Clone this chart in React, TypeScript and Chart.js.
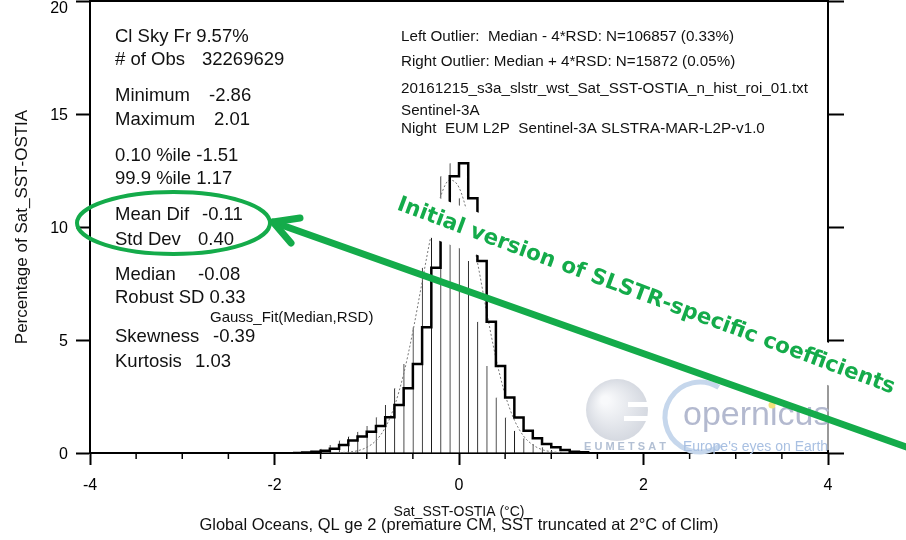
import React, { useEffect, useRef } from "react";
import { Chart, registerables } from "chart.js";
Chart.register(...registerables);

// ---- data ----
const binCenters = [-1.75, -1.65, -1.55, -1.45, -1.35, -1.25, -1.15, -1.05, -0.95, -0.85, -0.75, -0.65, -0.55, -0.45, -0.35, -0.25, -0.15, -0.05, 0.05, 0.15, 0.25, 0.35, 0.45, 0.55, 0.65, 0.75, 0.85, 0.95, 1.05, 1.15, 1.25, 1.35];
const binPercent = [0.02, 0.05, 0.1, 0.19, 0.35, 0.55, 0.73, 0.94, 1.19, 1.58, 2.12, 2.86, 3.94, 5.56, 8.2, 10.9, 12.25, 12.82, 11.27, 8.5, 5.81, 3.85, 2.46, 1.57, 0.98, 0.65, 0.4, 0.25, 0.13, 0.06, 0.03, 0.01];
const binWidth = 0.1;

const gaussX = [-1.3, -1.2, -1.1, -1.0, -0.9, -0.8, -0.7, -0.6, -0.5, -0.4, -0.3, -0.2, -0.1, 0.0, 0.1, 0.2, 0.3, 0.4, 0.5, 0.6, 0.7, 0.8, 0.9, 1.0, 1.1];
const gaussY = [0.02, 0.04, 0.1, 0.25, 0.55, 1.12, 2.07, 3.5, 5.38, 7.56, 9.69, 11.34, 12.08, 11.75, 10.43, 8.44, 6.24, 4.2, 2.58, 1.46, 0.75, 0.36, 0.15, 0.06, 0.02];

const xMajorTicks = [-4, -2, 0, 2, 4];
const xMinorTicks = [-3.5, -3, -2.5, -1.5, -1, -0.5, 0.5, 1, 1.5, 2.5, 3, 3.5];
const yTicks = [0, 5, 10, 15, 20];
const yTopTick = 20;

const xTitle = "Sat_SST-OSTIA (°C)";
const xCaption = "Global Oceans, QL ge 2 (premature CM, SST truncated at 2°C of Clim)";
const yTitle = "Percentage of Sat_SST-OSTIA";

// stats block: label, value, value x, y
const statLabels = ["Cl Sky Fr 9.57%", "# of Obs", "Minimum", "Maximum", "0.10 %ile -1.51", "99.9 %ile 1.17", "Mean Dif", "Std Dev", "Median", "Robust SD 0.33", "Skewness", "Kurtosis"];
const statValues = ["", "32269629", "-2.86", "2.01", "", "", "-0.11", "0.40", "-0.08", "", "-0.39", "1.03"];
const statValueX = [0, 202, 209, 214, 0, 0, 202, 198, 198, 0, 213, 195];
const statY = [37, 60, 96, 120, 156, 179, 215, 240, 275, 298, 337, 362];
const gaussLabel = "Gauss_Fit(Median,RSD)";

const infoLines = [
  "Left Outlier:  Median - 4*RSD: N=106857 (0.33%)",
  "Right Outlier: Median + 4*RSD: N=15872 (0.05%)",
  "20161215_s3a_slstr_wst_Sat_SST-OSTIA_n_hist_roi_01.txt",
  "Sentinel-3A",
  "Night  EUM L2P  Sentinel-3A SLSTRA-MAR-L2P-v1.0",
];
const infoY = [37, 62, 89, 111, 129];

const noteText = "Initial version of SLSTR-specific coefficients";
const GREEN = "#14ab4a";
const FONT = '"Liberation Sans", Arial, Helvetica, sans-serif';
const TICK_SIZE = 16;

const overlayPlugin = {
  id: "overlay",
  afterDraw(chart: any) {
    const ctx: CanvasRenderingContext2D = chart.ctx;
    const xs = chart.scales.x;
    const ys = chart.scales.y;
    const area = chart.chartArea;
    ctx.save();
    // minor x ticks
    ctx.strokeStyle = "#000";
    ctx.lineWidth = 1.5;
    for (const v of xMinorTicks) {
      const px = xs.getPixelForValue(v);
      ctx.beginPath();
      ctx.moveTo(px, area.bottom);
      ctx.lineTo(px, area.bottom + 6);
      ctx.stroke();
    }

    // top y label, kept inside the canvas
    ctx.fillStyle = "#000";
    ctx.textBaseline = "middle";
    ctx.textAlign = "right";
    ctx.font = `${TICK_SIZE}px ${FONT}`;
    ctx.fillText(String(yTopTick), area.left - 22, ys.getPixelForValue(yTopTick) + 8);

    // caption under the x title
    ctx.fillStyle = "#111";
    ctx.textAlign = "center";
    ctx.font = `16.5px ${FONT}`;
    ctx.fillText(xCaption, (area.left + area.right) / 2, 525);

    // stats text
    ctx.textAlign = "left";
    ctx.font = `18.5px ${FONT}`;
    statLabels.forEach((l, i) => {
      ctx.fillText(l, 115, statY[i]);
      if (statValues[i]) ctx.fillText(statValues[i], statValueX[i], statY[i]);
    });
    ctx.font = `15px ${FONT}`;
    ctx.fillText(gaussLabel, 210, 318);

    ctx.font = `15.2px ${FONT}`;
    infoLines.forEach((l, i) => ctx.fillText(l, 401, infoY[i]));

    // logo watermark
    ctx.fillStyle = "rgba(255,255,255,0.6)";
    ctx.fillRect(578, 376, 254, 74);
    const g = ctx.createRadialGradient(605, 400, 4, 617, 410, 33);
    g.addColorStop(0, "#f8f9fb");
    g.addColorStop(1, "#d3d7df");
    ctx.fillStyle = g;
    ctx.beginPath();
    ctx.arc(617, 410, 31, 0, Math.PI * 2);
    ctx.fill();
    ctx.fillStyle = "#fff";
    ctx.fillRect(628, 402, 24, 5);
    ctx.fillRect(624, 416, 28, 5);
    ctx.fillStyle = "#b3c0d4";
    ctx.font = `bold 11px ${FONT}`;
    ctx.fillText("E U M E T S A T", 584, 447);
    ctx.strokeStyle = "#c6d7ec";
    ctx.lineWidth = 5;
    ctx.beginPath();
    ctx.arc(700, 417, 35, -0.32 * Math.PI, 0.3 * Math.PI, true);
    ctx.stroke();
    ctx.save();
    ctx.translate(683, 426);
    ctx.fillStyle = "#b3b9cf";
    ctx.font = `34px ${FONT}`;
    ctx.fillText("opernicus", 0, -10);
    ctx.restore();
    ctx.fillStyle = "#f2e27a";
    ctx.beginPath();
    ctx.arc(772, 405, 3.5, 0, Math.PI * 2);
    ctx.fill();
    ctx.fillStyle = "#a9c0e2";
    ctx.font = `14px ${FONT}`;
    ctx.fillText("Europe's eyes on Earth", 683, 447);

    // green note with white box
    const ang = (20.4 * Math.PI) / 180;
    ctx.save();
    ctx.translate(398, 204);
    ctx.rotate(ang);
    ctx.font = `bold 21.5px "DejaVu Sans", Verdana, sans-serif`;
    const w = ctx.measureText(noteText).width;
    ctx.fillStyle = "#fff";
    ctx.fillRect(-6, -20, w + 12, 40);
    ctx.fillStyle = GREEN;
    ctx.textBaseline = "middle";
    ctx.fillText(noteText, 0, 0);
    ctx.restore();

    // arrow
    ctx.strokeStyle = GREEN;
    ctx.lineWidth = 7;
    ctx.lineCap = "round";
    ctx.lineJoin = "round";
    ctx.beginPath();
    ctx.moveTo(912, 449);
    ctx.lineTo(273, 222);
    ctx.stroke();
    ctx.beginPath();
    ctx.moveTo(300, 218);
    ctx.lineTo(273, 222);
    ctx.lineTo(291, 243);
    ctx.stroke();

    // ellipse
    ctx.lineWidth = 4;
    ctx.beginPath();
    ctx.ellipse(173.5, 223, 96.5, 31, 0, 0, Math.PI * 2);
    ctx.stroke();
    ctx.restore();
  },
};

export default function App() {
  const ref = useRef<HTMLCanvasElement | null>(null);
  useEffect(() => {
    if (!ref.current) return;
    const bars = binCenters.map((c, i) => ({ x: c, y: binPercent[i] }));
    const outline: { x: number; y: number }[] = [{ x: binCenters[0] - binWidth / 2, y: 0 }];
    binCenters.forEach((c, i) => outline.push({ x: c + binWidth / 2, y: binPercent[i] }));
    outline.push({ x: binCenters[binCenters.length - 1] + binWidth / 2, y: 0 });
    const gauss = gaussX.map((x, i) => ({ x, y: gaussY[i] }));

    const tickFont = { family: FONT, size: TICK_SIZE };
    const noPad = (s: any) => {
      s.paddingTop = 0;
      s.paddingBottom = 0;
      s.paddingLeft = 0;
      s.paddingRight = 0;
    };
    const chart = new Chart(ref.current, {
      type: "bar",
      data: {
        datasets: [
          {
            type: "line",
            data: outline,
            borderColor: "#000",
            borderWidth: 2.5,
            pointRadius: 0,
            stepped: "before",
            fill: false,
            order: 0,
          } as any,
          {
            type: "line",
            data: gauss,
            borderColor: "#777",
            borderWidth: 1,
            borderDash: [2, 2],
            pointRadius: 0,
            cubicInterpolationMode: "monotone",
            fill: false,
            order: 1,
          } as any,
          {
            type: "bar",
            data: bars,
            backgroundColor: "#fff",
            borderColor: "#1a1a1a",
            borderWidth: { left: 1, right: 0, top: 0, bottom: 0 },
            barPercentage: 1,
            categoryPercentage: 1,
            order: 2,
          } as any,
        ],
      },
      options: {
        animation: false,
        responsive: false,
        devicePixelRatio: 1,
        layout: { padding: 0, autoPadding: false },
        plugins: { legend: { display: false }, tooltip: { enabled: false } },
        scales: {
          x: {
            type: "linear",
            position: "bottom",
            min: -4,
            max: 4,
            offset: false,
            afterBuildTicks: (s: any) => {
              s.ticks = xMajorTicks.map((v) => ({ value: v }));
            },
            ticks: { color: "#000", font: tickFont, padding: 11, maxRotation: 0, autoSkip: false },
            grid: { offset: false, drawOnChartArea: false, drawTicks: true, tickLength: 12, tickWidth: 2, tickColor: "#000" },
            border: { display: true, color: "#000", width: 2 },
            title: {
              display: true,
              text: xTitle,
              color: "#111",
              font: { family: FONT, size: 14, lineHeight: 1 },
              padding: { top: 0, bottom: 21 },
            },
            afterFit: (s: any) => {
              s.height = 87;
              noPad(s);
            },
          },
          x2: {
            type: "linear",
            position: "top",
            min: -4,
            max: 4,
            offset: false,
            ticks: { display: false },
            grid: { drawOnChartArea: false, drawTicks: false },
            border: { display: true, color: "#000", width: 2 },
            afterFit: (s: any) => {
              s.height = 1;
              noPad(s);
            },
          },
          y: {
            type: "linear",
            position: "left",
            min: 0,
            max: 20,
            afterBuildTicks: (s: any) => {
              s.ticks = yTicks.map((v) => ({ value: v }));
            },
            ticks: {
              color: "#000",
              font: tickFont,
              padding: 8,
              labelOffset: 2,
              callback: (v: any) => (v === yTopTick ? "" : String(v)),
            },
            grid: { drawOnChartArea: false, drawTicks: true, tickLength: 14, tickWidth: 2, tickColor: "#000" },
            border: { display: true, color: "#000", width: 2 },
            title: {
              display: true,
              text: yTitle,
              color: "#111",
              font: { family: FONT, size: 17, lineHeight: 1.2 },
              padding: { top: 12, bottom: 0 },
            },
            afterFit: (s: any) => {
              s.width = 90;
              noPad(s);
            },
          },
          y2: {
            type: "linear",
            position: "right",
            min: 0,
            max: 20,
            afterBuildTicks: (s: any) => {
              s.ticks = yTicks.map((v) => ({ value: v }));
            },
            ticks: { display: false },
            grid: { drawOnChartArea: false, drawTicks: true, tickLength: 16, tickWidth: 2, tickColor: "#000" },
            border: { display: true, color: "#000", width: 2 },
            afterFit: (s: any) => {
              s.width = 78;
              noPad(s);
            },
          },
        },
      },
      plugins: [overlayPlugin],
    } as any);
    return () => chart.destroy();
  }, []);
  return (
    <div style={{ position: "fixed", left: 0, top: 0, width: 906, height: 540, background: "#fff" }}>
      <canvas ref={ref} width={906} height={540} style={{ display: "block" }} />
    </div>
  );
}
